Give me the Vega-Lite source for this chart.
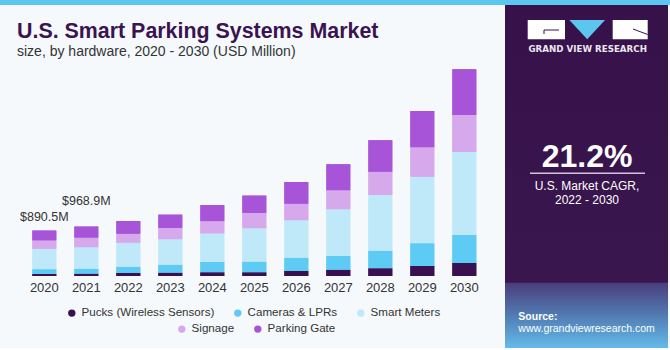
{
  "$schema": "https://vega.github.io/schema/vega-lite/v6.json",
  "background": "#f5f9fc",
  "padding": 0,
  "spacing": 0,
  "config": {
    "view": {"stroke": null},
    "font": "Liberation Sans",
    "concat": {"spacing": 0},
    "axis": {"domain": false, "ticks": false, "grid": false},
    "legend": {
      "direction": "horizontal",
      "symbolType": "circle",
      "symbolSize": 55,
      "labelFontSize": 11.6,
      "labelColor": "#333333",
      "labelFont": "Liberation Sans",
      "columnPadding": 17,
      "labelOffset": 4,
      "padding": 0
    }
  },
  "vconcat": [
    {
      "width": 670,
      "height": 5,
      "data": {"values": [{}]},
      "mark": {"type": "rect", "color": "#5cc6ef"},
      "encoding": {}
    },
    {
      "spacing": 0,
      "hconcat": [
        {
          "width": 505,
          "height": 271,
          "title": {
            "text": "U.S. Smart Parking Systems Market",
            "subtitle": "size, by hardware, 2020 - 2030 (USD Million)",
            "anchor": "start",
            "dx": 17,
            "offset": -54,
            "font": "Liberation Sans",
            "fontSize": 21.4,
            "fontWeight": "bold",
            "color": "#3a1450",
            "subtitleFont": "Liberation Sans",
            "subtitleFontSize": 14,
            "subtitleColor": "#333333",
            "subtitlePadding": 3
          },
          "data": {
            "values": [
              {"y": "2020", "t": "Pucks (Wireless Sensors)", "k": 1, "v": 40},
              {"y": "2020", "t": "Cameras & LPRs", "k": 2, "v": 93},
              {"y": "2020", "t": "Smart Meters", "k": 3, "v": 400},
              {"y": "2020", "t": "Signage", "k": 4, "v": 165},
              {"y": "2020", "t": "Parking Gate", "k": 5, "v": 192.5},
              {"y": "2021", "t": "Pucks (Wireless Sensors)", "k": 1, "v": 45},
              {"y": "2021", "t": "Cameras & LPRs", "k": 2, "v": 98},
              {"y": "2021", "t": "Smart Meters", "k": 3, "v": 420},
              {"y": "2021", "t": "Signage", "k": 4, "v": 188},
              {"y": "2021", "t": "Parking Gate", "k": 5, "v": 217.9},
              {"y": "2022", "t": "Pucks (Wireless Sensors)", "k": 1, "v": 59},
              {"y": "2022", "t": "Cameras & LPRs", "k": 2, "v": 123},
              {"y": "2022", "t": "Smart Meters", "k": 3, "v": 470},
              {"y": "2022", "t": "Signage", "k": 4, "v": 176},
              {"y": "2022", "t": "Parking Gate", "k": 5, "v": 249},
              {"y": "2023", "t": "Pucks (Wireless Sensors)", "k": 1, "v": 65},
              {"y": "2023", "t": "Cameras & LPRs", "k": 2, "v": 157},
              {"y": "2023", "t": "Smart Meters", "k": 3, "v": 498},
              {"y": "2023", "t": "Signage", "k": 4, "v": 221},
              {"y": "2023", "t": "Parking Gate", "k": 5, "v": 261},
              {"y": "2024", "t": "Pucks (Wireless Sensors)", "k": 1, "v": 73},
              {"y": "2024", "t": "Cameras & LPRs", "k": 2, "v": 204},
              {"y": "2024", "t": "Smart Meters", "k": 3, "v": 557},
              {"y": "2024", "t": "Signage", "k": 4, "v": 241},
              {"y": "2024", "t": "Parking Gate", "k": 5, "v": 314},
              {"y": "2025", "t": "Pucks (Wireless Sensors)", "k": 1, "v": 73},
              {"y": "2025", "t": "Cameras & LPRs", "k": 2, "v": 208},
              {"y": "2025", "t": "Smart Meters", "k": 3, "v": 655},
              {"y": "2025", "t": "Signage", "k": 4, "v": 300},
              {"y": "2025", "t": "Parking Gate", "k": 5, "v": 339},
              {"y": "2026", "t": "Pucks (Wireless Sensors)", "k": 1, "v": 98},
              {"y": "2026", "t": "Cameras & LPRs", "k": 2, "v": 261},
              {"y": "2026", "t": "Smart Meters", "k": 3, "v": 733},
              {"y": "2026", "t": "Signage", "k": 4, "v": 325},
              {"y": "2026", "t": "Parking Gate", "k": 5, "v": 425},
              {"y": "2027", "t": "Pucks (Wireless Sensors)", "k": 1, "v": 123},
              {"y": "2027", "t": "Cameras & LPRs", "k": 2, "v": 269},
              {"y": "2027", "t": "Smart Meters", "k": 3, "v": 915},
              {"y": "2027", "t": "Signage", "k": 4, "v": 372},
              {"y": "2027", "t": "Parking Gate", "k": 5, "v": 510},
              {"y": "2028", "t": "Pucks (Wireless Sensors)", "k": 1, "v": 151},
              {"y": "2028", "t": "Cameras & LPRs", "k": 2, "v": 345},
              {"y": "2028", "t": "Smart Meters", "k": 3, "v": 1092},
              {"y": "2028", "t": "Signage", "k": 4, "v": 457},
              {"y": "2028", "t": "Parking Gate", "k": 5, "v": 615},
              {"y": "2029", "t": "Pucks (Wireless Sensors)", "k": 1, "v": 196},
              {"y": "2029", "t": "Cameras & LPRs", "k": 2, "v": 445},
              {"y": "2029", "t": "Smart Meters", "k": 3, "v": 1305},
              {"y": "2029", "t": "Signage", "k": 4, "v": 576},
              {"y": "2029", "t": "Parking Gate", "k": 5, "v": 711},
              {"y": "2030", "t": "Pucks (Wireless Sensors)", "k": 1, "v": 255},
              {"y": "2030", "t": "Cameras & LPRs", "k": 2, "v": 549},
              {"y": "2030", "t": "Smart Meters", "k": 3, "v": 1627},
              {"y": "2030", "t": "Signage", "k": 4, "v": 725},
              {"y": "2030", "t": "Parking Gate", "k": 5, "v": 896}
            ]
          },
          "layer": [
            {
              "mark": {"type": "bar"},
              "encoding": {
                "x": {
                  "field": "y", "type": "ordinal", "title": null,
                  "scale": {"paddingInner": 0.43, "paddingOuter": 0.727, "align": 0.53},
                  "axis": {"labelAngle": 0, "labelFontSize": 13, "labelColor": "#333333", "labelPadding": 5, "labelFont": "Liberation Sans"}
                },
                "y": {
                  "field": "v", "type": "quantitative", "stack": "zero", "title": null,
                  "scale": {"domain": [0, 5310], "nice": false, "zero": true},
                  "axis": null
                },
                "color": {
                  "field": "t", "type": "nominal",
                  "scale": {
                    "domain": ["Pucks (Wireless Sensors)", "Cameras & LPRs", "Smart Meters", "Signage", "Parking Gate"],
                    "range": ["#3a1150", "#5ecbf5", "#bfe9f9", "#d6a9ec", "#a754d8"]
                  },
                  "legend": {"title": null, "orient": "none", "legendX": 66, "legendY": 307, "values": ["Pucks (Wireless Sensors)", "Cameras & LPRs", "Smart Meters"]}
                },
                "order": {"field": "k", "type": "quantitative"}
              }
            },
            {
              "mark": {"type": "bar"},
              "encoding": {
                "x": {"field": "y", "type": "ordinal"},
                "y": {"field": "v", "type": "quantitative", "stack": "zero"},
                "fill": {
                  "field": "t", "type": "nominal",
                  "scale": {
                    "domain": ["Signage", "Parking Gate", "Pucks (Wireless Sensors)", "Cameras & LPRs", "Smart Meters"],
                    "range": ["#d6a9ec", "#a754d8", "#3a1150", "#5ecbf5", "#bfe9f9"]
                  },
                  "legend": {"title": null, "orient": "none", "legendX": 176, "legendY": 323, "values": ["Signage", "Parking Gate"]}
                },
                "order": {"field": "k", "type": "quantitative"}
              }
            },
            {
              "data": {"values": [{"y": "2020", "total": 890.5, "label": "$890.5M"}]},
              "mark": {"type": "text", "dy": -14, "fontSize": 12.5, "color": "#333333", "font": "Liberation Sans"},
              "encoding": {
                "x": {"field": "y", "type": "ordinal"},
                "y": {"field": "total", "type": "quantitative"},
                "text": {"field": "label"}
              }
            },
            {
              "data": {"values": [{"y": "2021", "total": 968.9, "label": "$968.9M"}]},
              "mark": {"type": "text", "dy": -26, "fontSize": 12.5, "color": "#333333", "font": "Liberation Sans"},
              "encoding": {
                "x": {"field": "y", "type": "ordinal"},
                "y": {"field": "total", "type": "quantitative"},
                "text": {"field": "label"}
              }
            }
          ]
        },
        {
          "width": 163,
          "height": 343,
          "data": {"values": [{}]},
          "layer": [
            {
              "mark": {
                "type": "rect",
                "color": {
                  "gradient": "linear", "x1": 0, "y1": 0, "x2": 0, "y2": 1,
                  "stops": [
                    {"offset": 0, "color": "#37124a"},
                    {"offset": 0.808, "color": "#3a164e"},
                    {"offset": 0.812, "color": "#4a3f7e"},
                    {"offset": 0.9, "color": "#5178b0"},
                    {"offset": 1, "color": "#63bbe9"}
                  ]
                }
              },
              "encoding": {}
            },
            {
              "mark": {"type": "rect", "color": "#ffffff"},
              "encoding": {"x": {"value": 22.7}, "x2": {"value": 60}, "y": {"value": 15}, "y2": {"value": 34.3}}
            },
            {
              "mark": {"type": "rect", "color": "#ffffff"},
              "encoding": {"x": {"value": 107.7}, "x2": {"value": 142.7}, "y": {"value": 15}, "y2": {"value": 34.3}}
            },
            {
              "mark": {"type": "point", "shape": "M-1,-0.54L1,-0.54L0,0.54Z", "filled": true, "color": "#5cc6ef", "size": 1274, "opacity": 1},
              "encoding": {"x": {"value": 82.2}, "y": {"value": 24.7}}
            },
            {
              "mark": {"type": "rule", "color": "#37124a", "strokeWidth": 1},
              "encoding": {"x": {"value": 39}, "x2": {"value": 54}, "y": {"value": 25}}
            },
            {
              "mark": {"type": "rule", "color": "#37124a", "strokeWidth": 1},
              "encoding": {"x": {"value": 39}, "y": {"value": 25}, "y2": {"value": 29}}
            },
            {
              "mark": {"type": "rule", "color": "#37124a", "strokeWidth": 1},
              "encoding": {"x": {"value": 128}, "x2": {"value": 142.7}, "y": {"value": 24}, "y2": {"value": 29.5}}
            },
            {
              "mark": {"type": "text", "text": "GRAND VIEW RESEARCH", "font": "DejaVu Sans", "fontWeight": "bold", "fontSize": 8.7, "color": "#ece6f0", "align": "center", "baseline": "alphabetic"},
              "encoding": {"x": {"value": 82.7}, "y": {"value": 47.3}}
            },
            {
              "mark": {"type": "text", "text": "21.2%", "font": "Liberation Sans", "fontWeight": "bold", "fontSize": 32, "color": "#ffffff", "align": "center", "baseline": "alphabetic"},
              "encoding": {"x": {"value": 82}, "y": {"value": 161.7}}
            },
            {
              "mark": {"type": "rule", "color": "#cfc3dc", "strokeWidth": 1.5},
              "encoding": {"x": {"value": 25}, "x2": {"value": 140}, "y": {"value": 168.3}}
            },
            {
              "mark": {"type": "text", "text": "U.S. Market CAGR,", "font": "Liberation Sans", "fontSize": 12, "color": "#ffffff", "align": "center", "baseline": "alphabetic"},
              "encoding": {"x": {"value": 82}, "y": {"value": 185.3}}
            },
            {
              "mark": {"type": "text", "text": "2022 - 2030", "font": "Liberation Sans", "fontSize": 12, "color": "#ffffff", "align": "center", "baseline": "alphabetic"},
              "encoding": {"x": {"value": 82}, "y": {"value": 199.3}}
            },
            {
              "mark": {"type": "text", "text": "Source:", "font": "Liberation Sans", "fontWeight": "bold", "fontSize": 10.5, "color": "#ffffff", "align": "left", "baseline": "alphabetic"},
              "encoding": {"x": {"value": 13.3}, "y": {"value": 315}}
            },
            {
              "mark": {"type": "text", "text": "www.grandviewresearch.com", "font": "Liberation Sans", "fontSize": 10.5, "color": "#ffffff", "align": "left", "baseline": "alphabetic"},
              "encoding": {"x": {"value": 13.3}, "y": {"value": 327.3}}
            }
          ]
        }
      ]
    }
  ]
}
